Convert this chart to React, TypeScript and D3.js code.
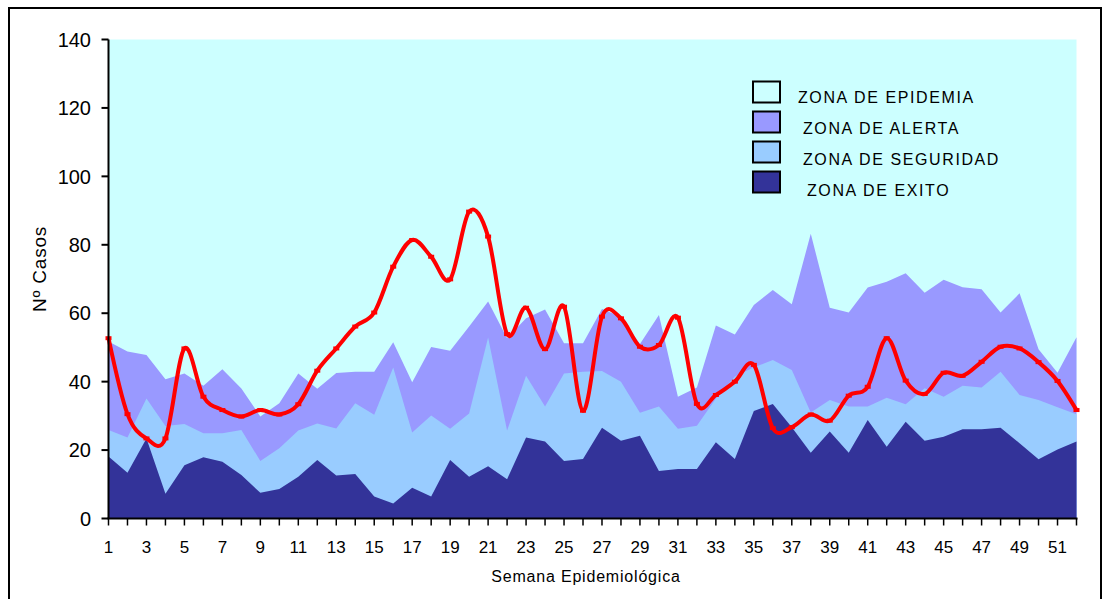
import React from "react";
import * as d3 from "d3";

// Epidemiological weeks 1..52
const weeks: number[] = d3.range(1, 53);

// Upper limit of the alert zone (purple)
const alerta: number[] = [
  51.7, 48.8, 47.8, 40.7, 42.4, 38.8, 43.6, 38.0, 29.8, 33.7,
  42.4, 37.9, 42.5, 42.9, 42.9, 51.5, 39.8, 50.1, 49.0, 56.1,
  63.4, 52.7, 58.5, 61.1, 51.2, 51.2, 61.2, 59.0, 51.0, 59.5,
  35.6, 38.3, 56.4, 53.8, 62.4, 66.8, 62.6, 83.2, 61.6, 60.2,
  67.5, 69.2, 71.7, 66.0, 69.8, 67.6, 67.0, 60.2, 65.8, 49.5,
  42.6, 53.0,
];

// Upper limit of the safety zone (light blue)
const seguridad: number[] = [
  25.9, 23.7, 35.1, 27.0, 27.6, 24.9, 24.9, 25.9, 16.8, 20.5,
  25.7, 27.8, 26.3, 33.7, 30.3, 44.1, 25.1, 30.1, 26.2, 30.7,
  52.9, 25.7, 41.7, 32.7, 42.4, 42.9, 43.1, 40.0, 30.9, 32.7,
  26.2, 27.1, 35.1, 41.5, 44.2, 46.3, 43.4, 31.0, 34.6, 32.7,
  32.7, 35.3, 33.4, 38.1, 35.6, 38.8, 38.3, 42.9, 36.1, 34.6,
  32.5, 30.5,
];

// Upper limit of the success zone (dark blue)
const exito: number[] = [
  18.1, 13.4, 23.4, 7.2, 15.6, 17.9, 16.6, 12.7, 7.5, 8.6,
  12.2, 17.1, 12.6, 13.0, 6.4, 4.4, 9.0, 6.4, 17.1, 12.2,
  15.3, 11.5, 23.7, 22.5, 16.8, 17.4, 26.5, 22.7, 24.2, 13.9,
  14.5, 14.5, 22.3, 17.4, 31.4, 33.5, 26.7, 19.2, 25.4, 19.2,
  28.8, 21.0, 28.3, 22.7, 23.9, 26.1, 26.1, 26.5, 22.0, 17.3,
  20.2, 22.5,
];

// Reported cases per week (red line)
const casos: number[] = [
  52.7, 30.5, 23.4, 23.4, 49.7, 35.6, 31.7, 29.8, 31.7, 30.4,
  33.4, 43.2, 49.7, 56.1, 60.2, 73.6, 81.4, 76.5, 69.9, 89.7,
  82.4, 53.9, 61.6, 49.5, 61.9, 31.5, 59.0, 58.5, 50.2, 50.7,
  58.7, 33.5, 36.1, 40.0, 44.9, 26.4, 26.7, 30.4, 28.6, 35.9,
  38.5, 52.7, 40.3, 36.4, 42.6, 41.7, 45.8, 50.2, 49.7, 45.7,
  40.2, 31.7,
];

const yTicks: number[] = [0, 20, 40, 60, 80, 100, 120, 140];
const xTickLabels: number[] = weeks.filter((w) => w % 2 === 1);

const legendItems: { label: string; color: string }[] = [
  { label: "ZONA DE EPIDEMIA", color: "#CCFFFF" },
  { label: "ZONA DE ALERTA", color: "#9999FF" },
  { label: "ZONA DE SEGURIDAD", color: "#99CCFF" },
  { label: "ZONA DE EXITO", color: "#333399" },
];

const W = 1108;
const H = 599;
const FONT = "'Liberation Sans', Arial, Helvetica, sans-serif";

export default function App() {
  const left = 108.5;
  const right = 1076.5;
  const top = 39.5;
  const bottom = 518.5;

  const x = d3.scaleLinear().domain([1, 52]).range([left, right]);
  const y = d3.scaleLinear().domain([0, 140]).range([bottom, top]);

  const area = d3
    .area<number>()
    .x((_, i) => x(weeks[i]))
    .y0(y(0))
    .y1((d) => y(d));

  const line = d3
    .line<number>()
    .x((_, i) => x(weeks[i]))
    .y((d) => y(d))
    .curve(d3.curveCatmullRom.alpha(0));

  return (
    <svg
      width={W}
      height={H}
      viewBox={`0 0 ${W} ${H}`}
      style={{ position: "absolute", left: 0, top: 0, background: "#fff" }}
    >
      {/* outer chart frame */}
      <path
        d={`M9,${H + 2} L9,8 L1101,8 L1101,${H + 2}`}
        fill="none"
        stroke="#000"
        strokeWidth={2}
      />

      {/* epidemic zone fills the whole plot */}
      <rect
        x={left}
        y={top}
        width={right - left}
        height={bottom - top}
        fill={legendItems[0].color}
      />
      <path d={area(alerta) ?? ""} fill={legendItems[1].color} />
      <path d={area(seguridad) ?? ""} fill={legendItems[2].color} />
      <path d={area(exito) ?? ""} fill={legendItems[3].color} />

      {/* cases line */}
      <path
        d={line(casos) ?? ""}
        fill="none"
        stroke="#FF0000"
        strokeWidth={4}
        strokeLinejoin="round"
      />
      {casos.map((c, i) => (
        <rect
          key={i}
          x={x(weeks[i]) - 3}
          y={y(c) - 2}
          width={6}
          height={4}
          fill="#FF0000"
        />
      ))}

      {/* y axis */}
      <line x1={left} x2={left} y1={top} y2={bottom} stroke="#000" strokeWidth={2} />
      {yTicks.map((t) => (
        <g key={t}>
          <line x1={left - 7} x2={left} y1={y(t)} y2={y(t)} stroke="#000" strokeWidth={2} />
          <text
            x={91}
            y={y(t)}
            dy="0.36em"
            textAnchor="end"
            fontFamily={FONT}
            fontSize={20}
            fill="#000"
          >
            {t}
          </text>
        </g>
      ))}

      {/* x axis */}
      <line x1={left - 1} x2={right + 1} y1={bottom} y2={bottom} stroke="#000" strokeWidth={2} />
      {weeks.map((w) => (
        <line
          key={w}
          x1={x(w)}
          x2={x(w)}
          y1={bottom}
          y2={bottom + 7}
          stroke="#000"
          strokeWidth={1.5}
        />
      ))}
      {xTickLabels.map((w) => (
        <text
          key={w}
          x={x(w)}
          y={553}
          textAnchor="middle"
          fontFamily={FONT}
          fontSize={17}
          fill="#000"
        >
          {w}
        </text>
      ))}

      {/* axis titles */}
      <text
        x={586}
        y={582}
        textAnchor="middle"
        fontFamily={FONT}
        fontSize={16}
        letterSpacing={0.8}
        fill="#000"
      >
        Semana Epidemiológica
      </text>
      <text
        transform="translate(46,269) rotate(-90)"
        textAnchor="middle"
        fontFamily={FONT}
        fontSize={19}
        letterSpacing={0.8}
        fill="#000"
      >
        Nº Casos
      </text>

      {/* legend */}
      {legendItems.map((item, i) => (
        <g key={item.label}>
          <rect
            x={753}
            y={81.5 + i * 30}
            width={27}
            height={21}
            fill={item.color}
            stroke="#000"
            strokeWidth={2}
          />
          <text
            x={[798, 803, 803, 807][i]}
            y={102.5 + i * 31.3}
            fontFamily={FONT}
            fontSize={16}
            letterSpacing={1.6}
            fill="#000"
          >
            {item.label}
          </text>
        </g>
      ))}
    </svg>
  );
}
